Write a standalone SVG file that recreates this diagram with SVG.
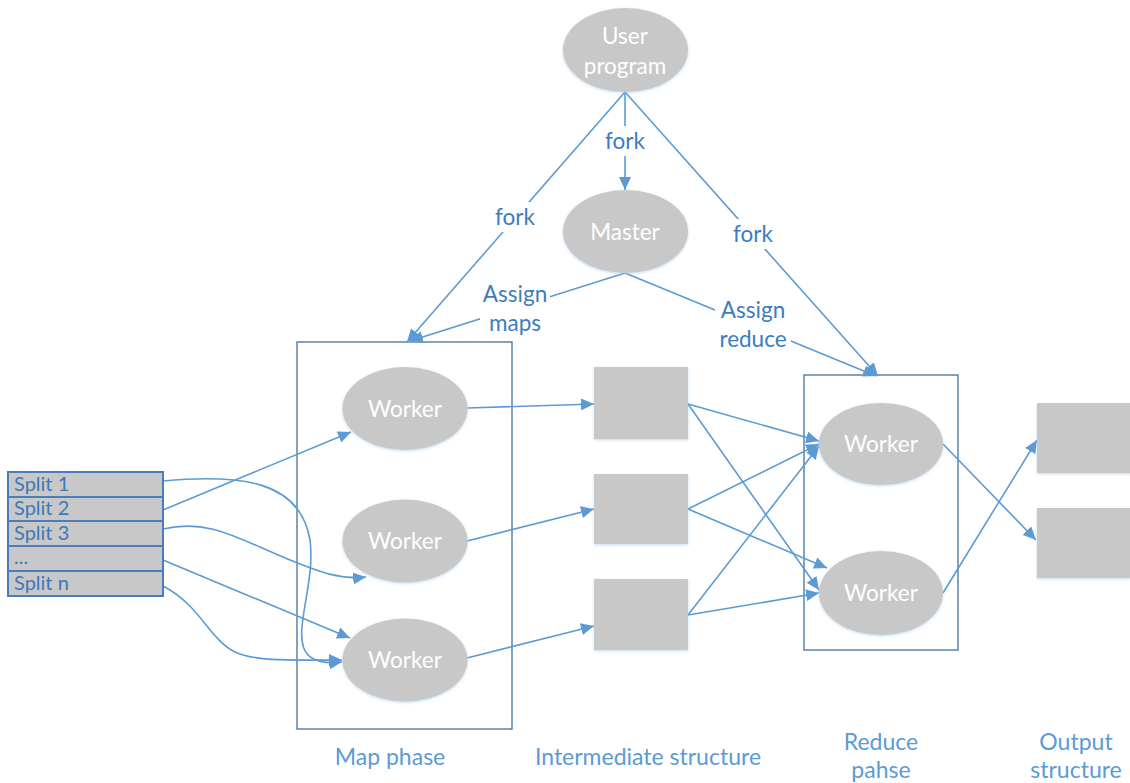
<svg xmlns="http://www.w3.org/2000/svg" width="1130" height="783" viewBox="0 0 1130 783">
<defs>
<style>
.node{fill:#c8c8c8;filter:url(#glow)}
.ntext{font-family:Lato,"Open Sans",sans-serif;font-size:22.5px;fill:#ffffff;text-anchor:middle}
.lbl{font-family:Lato,"Open Sans",sans-serif;font-size:22.5px;fill:#3b7dc1;text-anchor:middle}
.cap{font-family:Lato,"Open Sans",sans-serif;font-size:23px;fill:#5b9bd5;text-anchor:middle}
.split{font-family:Lato,"Open Sans",sans-serif;font-size:20px;fill:#3e78b8}
.c{fill:none;stroke:#5b9bd5;stroke-width:1.6}
.a{marker-end:url(#arr)}
.frame{fill:none;stroke:#41719c;stroke-width:1.3}
.bg{fill:#ffffff}
</style>
<filter id="glow" x="-20%" y="-20%" width="140%" height="140%">
<feDropShadow dx="0" dy="1" stdDeviation="1.5" flood-color="#9dc3e6" flood-opacity="0.6"/>
</filter>
<marker id="arr" markerUnits="userSpaceOnUse" markerWidth="14" markerHeight="12" refX="13" refY="6" orient="auto">
<path d="M0,0 L13,6 L0,12 Z" fill="#5b9bd5"/>
</marker>
</defs>
<rect width="1130" height="783" fill="#ffffff"/>

<g id="map-phase">
<rect class="frame" x="297" y="342" width="215" height="387"/>
</g>
<g id="reduce-phase">
<rect class="frame" x="804" y="375" width="154" height="275"/>
</g>

<g id="connectors">
<path class="c a" d="M625,92 L407,342"/>
<path class="c a" d="M625,92 L625,190"/>
<path class="c a" d="M625,92 L878,376"/>
<path class="c a" d="M625,273 L410,341"/>
<path class="c a" d="M625,273 L876,376"/>
<path class="c a" d="M163,481 C240,474 300,480 310,540 C318,600 270,670 342,662"/>
<path class="c a" d="M163,510 L351,432"/>
<path class="c a" d="M163,529 C210,518 240,540 290,560 C320,572 340,580 366,577"/>
<path class="c a" d="M163,560 L350,638"/>
<path class="c a" d="M163,586 C200,605 210,640 235,652 C255,662 300,660 342,660"/>
<path class="c a" d="M467,408 L594,404"/>
<path class="c a" d="M467,541 L594,509"/>
<path class="c a" d="M467,658 L594,626"/>
<path class="c a" d="M688,404 L819,441"/>
<path class="c a" d="M688,404 L819,590"/>
<path class="c a" d="M688,509 L819,444"/>
<path class="c a" d="M688,509 L827,568"/>
<path class="c a" d="M688,615 L819,446"/>
<path class="c a" d="M688,615 L819,593"/>
<path class="c a" d="M943,444 L1036,540"/>
<path class="c a" d="M943,593 L1037,440"/>
<rect class="bg" x="602" y="126" width="46" height="30"/>
<rect class="bg" x="491" y="202" width="48" height="30"/>
<rect class="bg" x="729" y="219" width="48" height="30"/>
<rect class="bg" x="480" y="280" width="70" height="56"/>
<rect class="bg" x="715" y="296" width="76" height="56"/>
<text class="lbl" x="625" y="149">fork</text>
<text class="lbl" x="515" y="225">fork</text>
<text class="lbl" x="753" y="242">fork</text>
<text class="lbl" x="515" y="302">Assign</text>
<text class="lbl" x="515" y="331">maps</text>
<text class="lbl" x="753" y="318">Assign</text>
<text class="lbl" x="753" y="347">reduce</text>
</g>

<g id="user-program">
<ellipse class="node" cx="625.5" cy="50" rx="62.5" ry="42"/>
<text class="ntext" x="625" y="44">User</text>
<text class="ntext" x="625" y="74">program</text>
</g>
<g id="master">
<ellipse class="node" cx="625.5" cy="231.5" rx="62.5" ry="41.5"/>
<text class="ntext" x="625" y="240">Master</text>
</g>

<g id="map-worker-1">
<ellipse class="node" cx="405" cy="408.5" rx="62.5" ry="41.5"/>
<text class="ntext" x="405" y="417">Worker</text>
</g>
<g id="map-worker-2">
<ellipse class="node" cx="405" cy="541" rx="62.5" ry="41.5"/>
<text class="ntext" x="405" y="549">Worker</text>
</g>
<g id="map-worker-3">
<ellipse class="node" cx="405" cy="660" rx="62.5" ry="41.5"/>
<text class="ntext" x="405" y="668">Worker</text>
</g>

<g id="inter-1"><rect class="node" x="594" y="367" width="94" height="72"/></g>
<g id="inter-2"><rect class="node" x="594" y="474" width="94" height="70"/></g>
<g id="inter-3"><rect class="node" x="594" y="579" width="94" height="71"/></g>

<g id="reduce-worker-1">
<ellipse class="node" cx="881" cy="444" rx="62" ry="41"/>
<text class="ntext" x="881" y="452">Worker</text>
</g>
<g id="reduce-worker-2">
<ellipse class="node" cx="881" cy="593" rx="62" ry="42"/>
<text class="ntext" x="881" y="601">Worker</text>
</g>

<g id="output-1"><rect class="node" x="1037" y="403" width="95" height="70"/></g>
<g id="output-2"><rect class="node" x="1037" y="508" width="95" height="70"/></g>

<g id="splits">
<rect x="8" y="472" width="155" height="124" fill="#c8c8c8" stroke="#4a7ebb" stroke-width="2"/>
<line x1="8" y1="497" x2="163" y2="497" stroke="#4a7ebb" stroke-width="2"/>
<line x1="8" y1="521" x2="163" y2="521" stroke="#4a7ebb" stroke-width="2"/>
<line x1="8" y1="546" x2="163" y2="546" stroke="#4a7ebb" stroke-width="2"/>
<line x1="8" y1="571" x2="163" y2="571" stroke="#4a7ebb" stroke-width="2"/>
<text class="split" x="14" y="491">Split 1</text>
<text class="split" x="14" y="515">Split 2</text>
<text class="split" x="14" y="540">Split 3</text>
<text class="split" x="14" y="564">...</text>
<text class="split" x="14" y="590">Split n</text>
</g>

<g id="captions">
<text class="cap" x="390" y="765">Map phase</text>
<text class="cap" x="648" y="765">Intermediate structure</text>
<text class="cap" x="881" y="750">Reduce</text>
<text class="cap" x="881" y="778">pahse</text>
<text class="cap" x="1076" y="750">Output</text>
<text class="cap" x="1076" y="778">structure</text>
</g>
</svg>
